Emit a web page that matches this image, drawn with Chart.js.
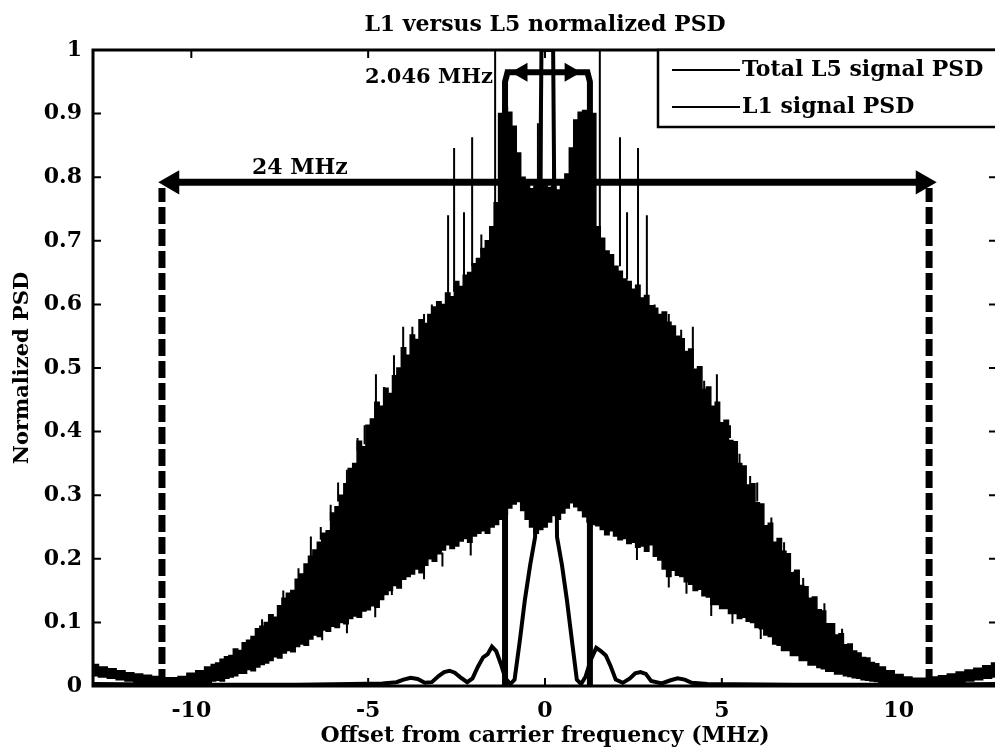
<!DOCTYPE html>
<html><head><meta charset="utf-8">
<script src="https://cdn.jsdelivr.net/npm/chart.js@4.4.0/dist/chart.umd.min.js"></script>
<style>html,body{margin:0;padding:0;background:#fff;overflow:hidden;}#wrap{width:997px;height:756px;}</style>
</head><body><div id="wrap"><canvas id="c" width="997" height="756"></canvas></div>
<script>
// ---- data ----
const l5Freq = [-12.75,-12.5,-12.25,-12,-11.75,-11.5,-11.25,-11,-10.75,-10.5,-10.25,-10,-9.75,
 -9.5,-9.375,-9.25,-9.125,-9,-8.875,-8.75,-8.625,-8.5,-8.375,-8.25,-8.125,-8,-7.875,-7.75,-7.625,-7.5,-7.375,-7.25,-7.125,-7,-6.875,-6.75,-6.625,-6.5,-6.375,-6.25,-6.125,-6,-5.875,-5.75,-5.625,-5.5,-5.375,-5.25,-5.125,-5,-4.875,-4.75,-4.625,-4.5,-4.375,-4.25,-4.125,-4,-3.875,-3.75,-3.625,-3.5,-3.375,-3.25,-3.125,-3,-2.875,-2.75,-2.625,-2.5,-2.375,-2.25,-2.125,-2,-1.875,-1.75,-1.625,-1.5,-1.375,-1.25,-1.125,-1,-0.875,-0.75,-0.625,-0.5,-0.375,-0.25,-0.125,0,
 0.125,0.25,0.375,0.5,0.625,0.75,0.875,1,1.125,1.25,1.375,1.5,1.625,1.75,1.875,2,2.125,2.25,2.375,2.5,2.625,2.75,2.875,3,3.125,3.25,3.375,3.5,3.625,3.75,3.875,4,4.125,4.25,4.375,4.5,4.625,4.75,4.875,5,5.125,5.25,5.375,5.5,5.625,5.75,5.875,6,6.125,6.25,6.375,6.5,6.625,6.75,6.875,7,7.125,7.25,7.375,7.5,7.625,7.75,7.875,8,8.125,8.25,8.375,8.5,8.625,8.75,8.875,9,9.125,9.25,9.375,9.5,
 9.75,10,10.25,10.5,10.75,11,11.25,11.5,11.75,12,12.25,12.5,12.75];
const l5Upper = [0.034,0.030,0.027,0.024,0.021,0.019,0.017,0.015,0.013,0.013,0.015,0.020,0.024,
 0.030,0.034,0.036,0.042,0.046,0.048,0.058,0.056,0.068,0.072,0.078,0.090,0.094,0.100,0.112,0.108,0.126,0.138,0.146,0.150,0.168,0.176,0.192,0.204,0.214,0.226,0.240,0.244,0.272,0.282,0.300,0.318,0.342,0.350,0.385,0.376,0.410,0.420,0.446,0.440,0.468,0.460,0.488,0.500,0.532,0.520,0.552,0.545,0.576,0.570,0.584,0.596,0.604,0.600,0.618,0.612,0.636,0.628,0.646,0.650,0.664,0.672,0.688,0.700,0.722,0.760,0.900,0.910,0.902,0.880,0.838,0.800,0.790,0.782,0.786,0.790,0.796,
 0.784,0.786,0.780,0.792,0.805,0.846,0.890,0.902,0.905,0.895,0.900,0.722,0.704,0.684,0.678,0.660,0.652,0.640,0.636,0.624,0.630,0.610,0.614,0.598,0.594,0.584,0.588,0.572,0.566,0.550,0.546,0.526,0.530,0.498,0.502,0.466,0.470,0.440,0.446,0.414,0.418,0.386,0.384,0.350,0.346,0.316,0.318,0.288,0.286,0.252,0.256,0.226,0.232,0.212,0.208,0.178,0.182,0.158,0.156,0.138,0.140,0.120,0.118,0.098,0.098,0.080,0.082,0.065,0.066,0.055,0.052,0.045,0.044,0.037,0.035,0.030,
 0.024,0.018,0.014,0.012,0.012,0.014,0.016,0.019,0.022,0.025,0.028,0.032,0.036];
const l5Lower = [0.016,0.014,0.012,0.010,0.008,0.006,0.005,0.004,0.003,0.003,0.003,0.004,0.005,
 0.006,0.008,0.009,0.008,0.012,0.014,0.016,0.020,0.020,0.026,0.024,0.030,0.034,0.036,0.040,0.046,0.044,0.052,0.056,0.054,0.062,0.066,0.064,0.074,0.080,0.078,0.088,0.086,0.094,0.092,0.100,0.098,0.106,0.110,0.108,0.118,0.120,0.126,0.124,0.136,0.144,0.150,0.158,0.154,0.168,0.172,0.176,0.184,0.178,0.190,0.200,0.196,0.208,0.214,0.222,0.216,0.220,0.228,0.232,0.226,0.236,0.240,0.244,0.240,0.250,0.254,0.262,0.270,0.280,0.286,0.290,0.276,0.262,0.250,0.240,0.246,0.250,
 0.258,0.268,0.262,0.272,0.280,0.288,0.282,0.276,0.266,0.258,0.254,0.252,0.246,0.238,0.244,0.236,0.230,0.232,0.224,0.226,0.218,0.220,0.212,0.222,0.204,0.198,0.184,0.172,0.182,0.174,0.172,0.164,0.160,0.150,0.152,0.142,0.140,0.128,0.128,0.122,0.122,0.114,0.114,0.106,0.108,0.102,0.100,0.092,0.090,0.080,0.078,0.066,0.064,0.056,0.056,0.048,0.048,0.040,0.040,0.033,0.033,0.029,0.027,0.023,0.023,0.019,0.019,0.016,0.015,0.013,0.012,0.010,0.009,0.008,0.007,0.006,
 0.005,0.004,0.003,0.003,0.003,0.003,0.004,0.005,0.006,0.008,0.010,0.012,0.014];
// isolated spectral lines (vertical strokes from base to tip)
const spikeFreq = [-8.0,-7.4,-6.97,-6.62,-6.34,-6.06,-5.85,-5.6,-5.3,-5.1,-4.78,-4.55,-4.27,-4.01,-3.75,-3.42,-3.2,-2.74,-2.57,-2.29,-2.06,-1.8,-1.41,-0.2,-0.1,0.23,1.55,2.12,2.32,2.63,2.88,3.1,3.5,3.85,4.18,4.5,4.86,5.23,5.5,5.8,6.0,6.4,6.76,7.04,7.3,7.9,8.4,
 -6.3,-5.6,-4.8,-4.33,-3.42,-2.9,-2.1,2.6,3.5,4.0,4.7,5.3,6.1];
const spikeBase = [0.090,0.13,0.165,0.20,0.23,0.26,0.29,0.31,0.37,0.38,0.44,0.45,0.48,0.52,0.54,0.57,0.58,0.61,0.62,0.64,0.66,0.68,0.72,0.78,0.78,0.78,0.72,0.66,0.64,0.63,0.61,0.59,0.57,0.54,0.50,0.46,0.44,0.39,0.34,0.31,0.29,0.25,0.20,0.17,0.155,0.115,0.08,
 0.09,0.10,0.13,0.16,0.19,0.21,0.23,0.22,0.175,0.165,0.13,0.115,0.09];
const spikeTop  = [0.105,0.15,0.185,0.235,0.25,0.285,0.32,0.34,0.39,0.41,0.49,0.47,0.52,0.565,0.565,0.585,0.60,0.74,0.846,0.745,0.863,0.71,1.0,0.885,1.0,1.0,1.0,0.863,0.745,0.846,0.74,0.60,0.585,0.56,0.565,0.48,0.49,0.41,0.365,0.33,0.32,0.265,0.226,0.18,0.17,0.13,0.09,
 0.072,0.083,0.108,0.143,0.168,0.188,0.205,0.198,0.155,0.145,0.11,0.098,0.074];
const l1Freq = [-12.78,-10,-7,-5.5,-4.6,-4.2,-4,-3.8,-3.6,-3.4,-3.2,-3,-2.85,-2.7,-2.55,-2.4,-2.2,-2.05,-1.9,-1.75,-1.62,-1.5,-1.38,-1.25,-1.12,-0.98,-0.86,-0.71,-0.57,-0.42,-0.28,-0.18,-0.1,0.23,0.3,0.34,0.48,0.62,0.76,0.9,1.02,1.15,1.3,1.45,1.58,1.72,1.85,2,2.2,2.4,2.55,2.7,2.85,3,3.3,3.55,3.75,3.95,4.15,4.6,7,10,12.78];
const l1Psd  = [0.003,0.002,0.002,0.003,0.004,0.006,0.010,0.013,0.011,0.005,0.006,0.016,0.022,0.024,0.021,0.014,0.006,0.012,0.030,0.045,0.050,0.062,0.055,0.035,0.012,0.003,0.010,0.072,0.135,0.190,0.234,0.5,1.0,1.0,0.5,0.234,0.190,0.135,0.072,0.010,0.003,0.015,0.042,0.060,0.055,0.048,0.032,0.010,0.005,0.012,0.020,0.022,0.019,0.008,0.004,0.009,0.012,0.010,0.005,0.003,0.002,0.002,0.003];
const legendLabels = ['Total L5 signal PSD', 'L1 signal PSD'];
const xTickValues = [-10, -5, 0, 5, 10];
const yTickValues = [0, 0.1, 0.2, 0.3, 0.4, 0.5, 0.6, 0.7, 0.8, 0.9, 1];
const yTickLabels = ['0', '0.1', '0.2', '0.3', '0.4', '0.5', '0.6', '0.7', '0.8', '0.9', '1'];
// annotations (data units)
const bandEdgeFreq = [-10.83, 10.86];
const bandEdgeTop = 0.783;
const bandArrowFreq = [-10.54, 10.68];
const bandArrowLevel = 0.792;
const bracketFreq = [-1.13, -1.06, 1.20, 1.27];
const bracketLevel = [0.95, 0.965, 0.965, 0.95];
const bracketArrowFreq = [-0.65, 0.71];
const annotationText = ['24 MHz', '2.046 MHz'];
const annotationFreq = [-6.93, -1.47];
const annotationLevel = [0.814, 0.957];

const FONT = "'DejaVu Serif', serif";
const pts = (xs, ys) => xs.map((x, i) => ({x: x, y: ys[i]}));
const spikePts = [];
spikeFreq.forEach((f, i) => { spikePts.push({x: f, y: spikeBase[i]}, {x: f, y: spikeTop[i]}, {x: f, y: null}); });
const edgePts = [];
bandEdgeFreq.forEach(f => { edgePts.push({x: f, y: 0}, {x: f, y: bandEdgeTop}, {x: f, y: null}); });
const bracketPts = [
  {x: bracketFreq[0], y: 0}, ...pts(bracketFreq, bracketLevel), {x: bracketFreq[3], y: 0}
];

const frame = {
  id: 'frame',
  afterLayout(chart) {
    const t = chart.titleBlock;
    if (t) { t.left = chart.chartArea.left; t.right = chart.chartArea.right; t.width = t.right - t.left; }
  },
  afterDatasetsDraw(chart) {
    const {ctx, chartArea: a, scales: {x, y}} = chart;
    ctx.save();
    ctx.strokeStyle = '#000';
    ctx.lineWidth = 2;
    ctx.beginPath();
    x.ticks.forEach(t => { const p = x.getPixelForValue(t.value);
      ctx.moveTo(p, a.bottom); ctx.lineTo(p, a.bottom - 8); ctx.moveTo(p, a.top); ctx.lineTo(p, a.top + 8); });
    y.ticks.forEach(t => { const p = y.getPixelForValue(t.value);
      ctx.moveTo(a.left, p); ctx.lineTo(a.left + 8, p); ctx.moveTo(a.right, p); ctx.lineTo(a.right - 8, p); });
    ctx.stroke();
    ctx.lineWidth = 3;
    ctx.strokeRect(a.left, a.top, a.right - a.left, a.bottom - a.top);
    // annotation texts
    ctx.fillStyle = '#000';
    ctx.textBaseline = 'middle';
    ctx.font = 'bold 22px ' + FONT;
    ctx.textAlign = 'center';
    ctx.fillText(annotationText[0], x.getPixelForValue(annotationFreq[0]), y.getPixelForValue(annotationLevel[0]));
    ctx.font = 'bold 21px ' + FONT;
    ctx.textAlign = 'right';
    ctx.fillText(annotationText[1], x.getPixelForValue(annotationFreq[1]), y.getPixelForValue(annotationLevel[1]));
    // legend box
    const bx = 658, by = a.top, bw = a.right - bx, bh = 127 - a.top;
    ctx.fillStyle = '#fff';
    ctx.fillRect(bx, by, bw, bh);
    ctx.lineWidth = 2.5;
    ctx.strokeRect(bx, by, bw, bh);
    ctx.fillStyle = '#000';
    ctx.lineWidth = 2;
    ctx.font = 'bold 22px ' + FONT;
    ctx.textAlign = 'left';
    [70, 107].forEach((ry, i) => {
      ctx.beginPath(); ctx.moveTo(672, ry); ctx.lineTo(740, ry); ctx.stroke();
      ctx.fillText(legendLabels[i], 742, ry);
    });
    ctx.restore();
  }
};

new Chart(document.getElementById('c'), {
  type: 'line',
  data: {
    datasets: [
      {label: legendLabels[0], data: pts(l5Freq, l5Upper), borderColor: '#000', borderWidth: 1.5,
       backgroundColor: '#000', fill: '+1', stepped: 'middle', pointRadius: 0},
      {label: 'L5 lower', data: pts(l5Freq, l5Lower), borderColor: '#000', borderWidth: 1.5,
       fill: false, stepped: 'middle', pointRadius: 0},
      {label: 'L5 lines', data: spikePts, borderColor: '#000', borderWidth: 2, pointRadius: 0, spanGaps: false, fill: false},
      {label: legendLabels[1], data: pts(l1Freq, l1Psd), borderColor: '#000', borderWidth: 4, pointRadius: 0, fill: false},
      {label: 'band edges', data: edgePts, borderColor: '#000', borderWidth: 7, borderDash: [17, 5], pointRadius: 0, spanGaps: false, fill: false},
      {label: 'band arrow', data: pts(bandArrowFreq, [bandArrowLevel, bandArrowLevel]), borderColor: '#000', borderWidth: 7,
       pointStyle: 'triangle', pointRadius: 14, pointBackgroundColor: '#000', pointBorderWidth: 0,
       pointRotation: c => c.dataIndex === 0 ? 270 : 90, fill: false},
      {label: 'bracket', data: bracketPts, borderColor: '#000', borderWidth: 6, pointRadius: 0, fill: false},
      {label: 'bracket arrows', data: pts(bracketArrowFreq, [bracketLevel[1], bracketLevel[2]]), showLine: false,
       pointStyle: 'triangle', pointRadius: 11, pointBackgroundColor: '#000', pointBorderColor: '#000', pointBorderWidth: 0,
       pointRotation: c => c.dataIndex === 0 ? 270 : 90, fill: false}
    ]
  },
  options: {
    responsive: false,
    animation: false,
    events: [],
    layout: {padding: 0, autoPadding: false},
    plugins: {
      legend: {display: false},
      tooltip: {enabled: false},
      title: {display: true, text: 'L1 versus L5 normalized PSD', color: '#000',
              font: {family: FONT, size: 22, weight: 'bold'}, padding: {top: 12, bottom: 11.6}}
    },
    scales: {
      x: {type: 'linear', min: -12.78, max: 12.78,
          afterBuildTicks: s => { s.ticks = xTickValues.map(v => ({value: v})); },
          afterFit: s => { s.height = 70; s.paddingLeft = 0; s.paddingRight = 0; },
          grid: {display: false, drawTicks: false}, border: {display: false},
          ticks: {color: '#000', padding: 12, font: {family: FONT, size: 22, weight: 'bold'}, maxRotation: 0,
                  callback: v => String(v)},
          title: {display: true, text: 'Offset from carrier frequency (MHz)', color: '#000',
                  font: {family: FONT, size: 22, weight: 'bold'}, padding: {top: 0, bottom: 7}}},
      y: {type: 'linear', min: 0, max: 1,
          afterBuildTicks: s => { s.ticks = yTickValues.map(v => ({value: v})); },
          afterFit: s => { s.width = 93; s.paddingTop = 0; s.paddingBottom = 0; },
          grid: {display: false, drawTicks: false}, border: {display: false},
          ticks: {color: '#000', padding: 11, font: {family: FONT, size: 22, weight: 'bold'},
                  callback: (v, i) => yTickLabels[i]},
          title: {display: true, text: 'Normalized PSD', color: '#000',
                  font: {family: FONT, size: 21, weight: 'bold'}, padding: {top: 10, bottom: 0}}}
    }
  },
  plugins: [frame]
});
</script></body></html>
